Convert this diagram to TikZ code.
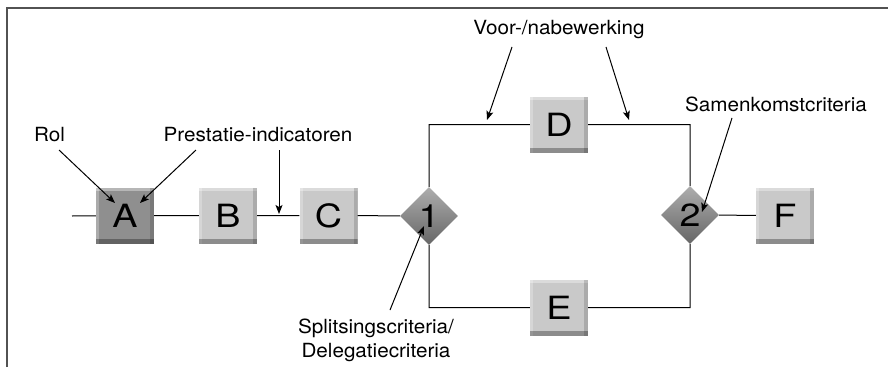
\documentclass[tikz,border=0pt]{standalone}
\usepackage{fontspec}
\setmainfont{TeX Gyre Heros}
\newfontfamily\remarkfont[FakeStretch=1.06]{TeX Gyre Heros}
\newfontfamily\stepfont[FakeStretch=1.18]{TeX Gyre Heros}
\usepackage{tikz}
\usetikzlibrary{arrows.meta, shapes.geometric}

\colorlet{taskgray}{black!21}
\colorlet{rolgray}{black!44}
\colorlet{framegray}{black!68}

\tikzset{
  task/.style={rectangle, minimum width=58pt, minimum height=56pt, inner sep=0pt,
    fill=#1, font=\stepfont\fontsize{32}{32}\selectfont,
    path picture={
      \fill[white, opacity=.35] (path picture bounding box.north west) rectangle ([yshift=-3pt]path picture bounding box.north east);
      \fill[white, opacity=.25] (path picture bounding box.north west) rectangle ([xshift=3pt]path picture bounding box.south west);
      \fill[black, opacity=.15] ([xshift=-4pt]path picture bounding box.north east) rectangle (path picture bounding box.south east);
      \fill[black, opacity=.3] ([yshift=5pt]path picture bounding box.south west) rectangle (path picture bounding box.south east);
    }},
  task/.default=taskgray,
  gate/.style={diamond, minimum width=58pt, minimum height=58pt, inner sep=0pt,
    top color=black!32, bottom color=black!60, font=\stepfont\fontsize{32}{32}\selectfont},
  flow/.style={line width=1pt},
  pointer/.style={line width=1pt, -{Stealth[length=9pt, width=7pt, inset=2pt]}},
  remark/.style={font=\remarkfont\fontsize{19.5}{24}\selectfont, anchor=base, inner sep=0pt, align=center}
}

\begin{document}
\begin{tikzpicture}[x=1pt, y=-1pt]
\useasboundingbox (0,0) rectangle (888,367);
\draw[framegray, line width=2pt] (7,367) -- (7,8) -- (888,8);

% process steps
\node[task=rolgray] (A) at (125,215.5) {A};
\node[task] (B) at (228,215.5) {B};
\node[task] (C) at (328.5,215.5) {C};
\node[gate] (s1) at (429,216) {1};
\node[task] (D) at (559,124.5) {D};
\node[task] (E) at (559,307.5) {E};
\node[gate] (s2) at (690,215) {2};
\node[task] (F) at (785,215.5) {F};
\coordinate (in) at (72,216);

\draw[flow] (in) -- (A) (A) -- (B) (B) -- (C) (C) -- (s1)
    (s1) |- (D) (D) -| (s2) (s1) |- (E) (E) -| (s2) (s2) -- (F);

% remarks
\node[remark] (rol) at (49.5,141) {Rol};
\node[remark] (prest) at (258,141) {Prestatie-indicatoren};
\node[remark] (voor) at (559,34.5) {Voor-/nabewerking};
\node[remark] (samen) at (776,111) {Samenkomstcriteria};
\node[remark] (split) at (376,357) {Splitsingscriteria/\\Delegatiecriteria};

\coordinate (rol tail) at (59,150);   \coordinate (rol tip) at (115,203);
\coordinate (prest tail) at (196,150); \coordinate (prest tip) at (140,203);
\coordinate (kpi tail) at (279,150);  \coordinate (kpi tip) at (279,214);
\coordinate (pre tail) at (512,47);   \coordinate (pre tip) at (487,120);
\coordinate (post tail) at (606,47);  \coordinate (post tip) at (629,120);
\coordinate (samen tail) at (732,118); \coordinate (samen tip) at (702,212);
\coordinate (split tail) at (390,310); \coordinate (split tip) at (424,226);

\foreach \p in {rol, prest, kpi, pre, post, samen, split}
    \draw[pointer] (\p\space tail) -- (\p\space tip);
\end{tikzpicture}
\end{document}
